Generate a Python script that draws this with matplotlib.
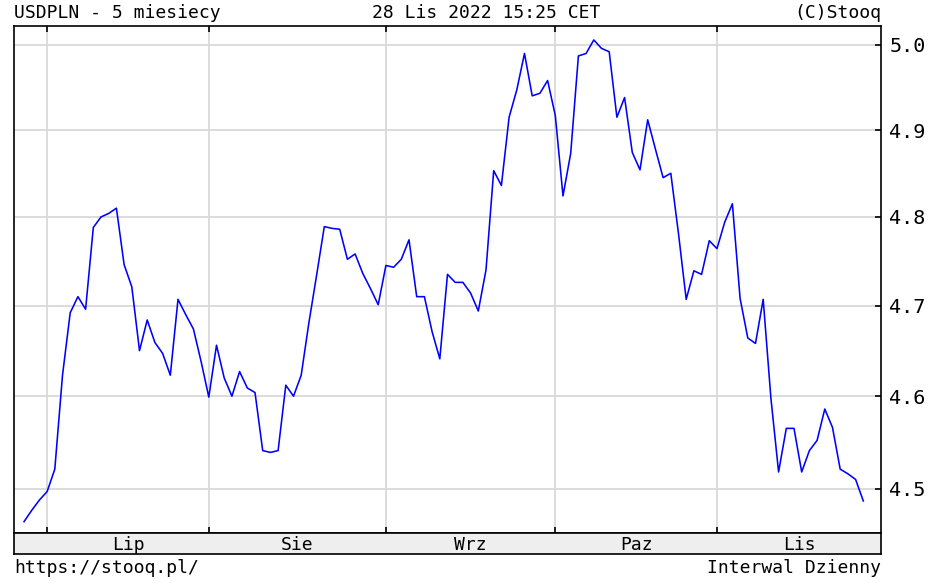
import numpy as np
import pandas as pd
import matplotlib
matplotlib.use('Agg')
import matplotlib.pyplot as plt
from matplotlib.ticker import FixedLocator, FormatStrFormatter, NullLocator

# USDPLN daily closes, 28 Jun - 28 Nov 2022
dates = pd.bdate_range('2022-06-28', '2022-11-28')
closes = [
    4.465, 4.477, 4.488, 4.497, 4.521, 4.623, 4.692, 4.710, 4.696, 4.788,
    4.800, 4.804, 4.810, 4.746, 4.721, 4.650, 4.684, 4.659, 4.647, 4.623,
    4.707, 4.690, 4.674, 4.638, 4.599, 4.656, 4.620, 4.600, 4.627, 4.609,
    4.604, 4.541, 4.539, 4.541, 4.612, 4.600, 4.623, 4.681, 4.734, 4.789,
    4.787, 4.786, 4.752, 4.758, 4.736, 4.719, 4.701, 4.745, 4.743, 4.752,
    4.774, 4.710, 4.710, 4.671, 4.641, 4.735, 4.726, 4.726, 4.714, 4.694,
    4.740, 4.853, 4.836, 4.915, 4.947, 4.990, 4.940, 4.943, 4.958, 4.917,
    4.824, 4.873, 4.987, 4.990, 5.006, 4.996, 4.992, 4.915, 4.938, 4.874,
    4.854, 4.912, 4.878, 4.845, 4.850, 4.781, 4.707, 4.739, 4.735, 4.773,
    4.764, 4.794, 4.815, 4.708, 4.664, 4.658, 4.707, 4.598, 4.518, 4.565,
    4.565, 4.518, 4.541, 4.552, 4.586, 4.566, 4.521, 4.516, 4.510, 4.487,
]
month_labels = ['Lip', 'Sie', 'Wrz', 'Paz', 'Lis']
y_ticks = [4.5, 4.6, 4.7, 4.8, 4.9, 5.0]

plt.rcParams['font.family'] = 'DejaVu Sans Mono'
plt.rcParams['font.size'] = 13

W, H = 933, 583
x = np.arange(len(closes))
x_lo, x_hi = x[0] - 1.3, x[-1] + 2.3

# first trading day of each month -> gridlines, label in the middle
month_starts = [i for i in range(1, len(dates)) if dates[i].month != dates[i - 1].month]
edges = month_starts + [x_hi]
centers = [(edges[i] + edges[i + 1]) / 2 for i in range(len(month_starts))]

fig = plt.figure(figsize=(W / 100, H / 100), dpi=100)
ax = fig.add_axes([14 / W, 1 - 533 / H, 867 / W, 507 / H])
band = fig.add_axes([14 / W, 1 - 554 / H, 867 / W, 21 / H])

ax.plot(x, closes, color='#0000ff', linewidth=1.15, zorder=3)
ax.set_yscale('log')
ax.set_ylim(4.453, 5.0226)
ax.set_xlim(x_lo, x_hi)

ax.yaxis.set_major_locator(FixedLocator(y_ticks))
ax.yaxis.set_major_formatter(FormatStrFormatter('%.1f'))
ax.yaxis.set_minor_locator(NullLocator())
ax.xaxis.set_major_locator(FixedLocator(month_starts))
ax.xaxis.set_minor_locator(NullLocator())

ax.grid(True, color='#d9d9d9', linewidth=1.3)
ax.set_axisbelow(True)
ax.tick_params(axis='y', direction='in', length=4, width=1.2, left=False, right=True,
               labelleft=False, labelright=True, pad=6, labelsize=14.5)
ax.tick_params(axis='x', direction='in', length=4, width=1.2, top=True, bottom=True,
               labelbottom=False)
for s in ax.spines.values():
    s.set_linewidth(1.2)

band.set_xlim(x_lo, x_hi)
band.set_ylim(0, 1)
band.set_facecolor('#eeeeee')
band.set_xticks([])
band.set_yticks([])
for s in band.spines.values():
    s.set_linewidth(1.2)
for cx, lab in zip(centers, month_labels):
    band.text(cx, 0.45, lab, ha='center', va='center')

fig.text(14 / W, 1 - 13 / H, 'USDPLN - 5 miesiecy', ha='left', va='center')
fig.text(486 / W, 1 - 13 / H, '28 Lis 2022 15:25 CET', ha='center', va='center')
fig.text(881 / W, 1 - 13 / H, '(C)Stooq', ha='right', va='center')
fig.text(14 / W, 1 - 568 / H, 'https://stooq.pl/', ha='left', va='center')
fig.text(881 / W, 1 - 568 / H, 'Interwal Dzienny', ha='right', va='center')

fig.savefig('out.png', dpi=100)
